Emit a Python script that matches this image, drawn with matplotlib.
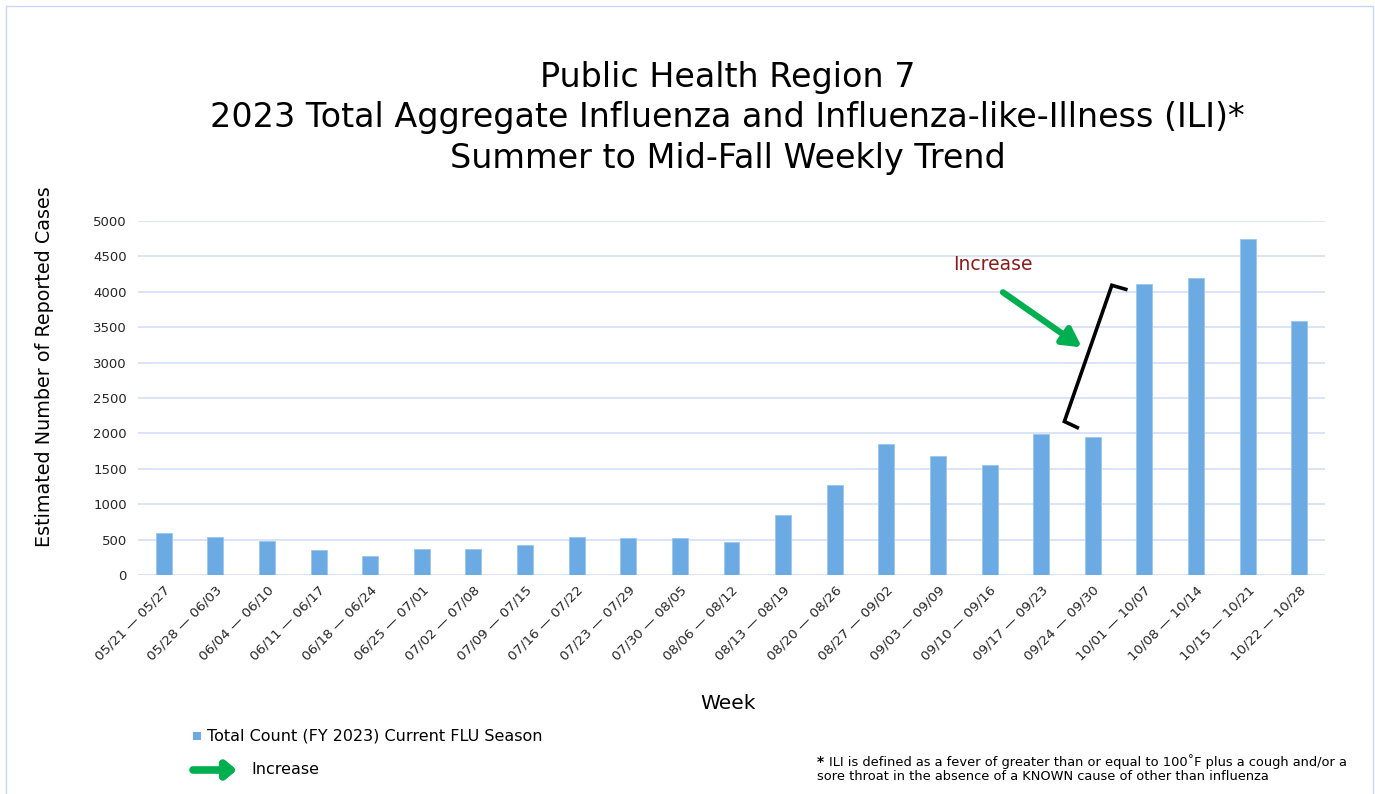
import matplotlib.pyplot as plt
from matplotlib.patches import Rectangle
import numpy as np

weeks = ['05/21 — 05/27', '05/28 — 06/03', '06/04 — 06/10', '06/11 — 06/17',
         '06/18 — 06/24', '06/25 — 07/01', '07/02 — 07/08', '07/09 — 07/15',
         '07/16 — 07/22', '07/23 — 07/29', '07/30 — 08/05', '08/06 — 08/12',
         '08/13 — 08/19', '08/20 — 08/26', '08/27 — 09/02', '09/03 — 09/09',
         '09/10 — 09/16', '09/17 — 09/23', '09/24 — 09/30', '10/01 — 10/07',
         '10/08 — 10/14', '10/15 — 10/21', '10/22 — 10/28']
total_count = [595, 542, 486, 358, 273, 363, 372, 420, 540, 516, 516, 472,
               853, 1269, 1846, 1685, 1558, 1992, 1955, 4106, 4195, 4752, 3583]
y_ticks = [0, 500, 1000, 1500, 2000, 2500, 3000, 3500, 4000, 4500, 5000]

bar_color = '#6CAAE3'
grid_color = '#D3DFF5'
green = '#00B050'

plt.rcParams['font.family'] = 'DejaVu Sans'

fig = plt.figure(figsize=(13.75, 7.94), dpi=100)
ax = fig.add_axes([138/1375, 1 - 575/794, (1325 - 138)/1375, (575 - 221)/794])

x = np.arange(len(weeks))
ax.bar(x, total_count, width=0.31, color=bar_color, edgecolor='#9CC6EE', linewidth=0.6, zorder=3)

ax.set_xlim(-0.5, len(weeks) - 0.5)
ax.set_ylim(0, 5000)
ax.set_yticks(y_ticks)
ax.set_yticklabels([str(v) for v in y_ticks], fontsize=9.5, color='#262626')
ax.set_xticks(x)
ax.set_xticklabels(weeks, rotation=45, ha='right', rotation_mode='anchor', fontsize=9.7, color='#262626')
ax.tick_params(axis='both', length=0, pad=8)
ax.tick_params(axis='x', pad=6)
ax.grid(axis='y', color=grid_color, linewidth=1.2, zorder=0)
for s in ax.spines.values():
    s.set_visible(False)

ax.set_ylabel('Estimated Number of Reported Cases', fontsize=13.8)
ax.yaxis.set_label_coords(-0.071, 0.59)
ax.set_xlabel('Week', fontsize=14.5)
ax.xaxis.set_label_coords(0.497, -0.336)

fig.text(0.529, 1 - 118/794,
         'Public Health Region 7\n2023 Total Aggregate Influenza and Influenza-like-Illness (ILI)*\nSummer to Mid-Fall Weekly Trend',
         ha='center', va='center', fontsize=24, linespacing=1.3)

# annotation: increase arrow and bracket
ax.text(16.07, 4380, 'Increase', color='#8B1A1A', fontsize=13.5, ha='center', va='center')
ax.annotate('', xy=(17.79, 3215), xytext=(16.26, 3993),
            arrowprops=dict(arrowstyle='-|>,head_width=0.6,head_length=1.1', lw=4.5,
                            color=green, shrinkA=0, shrinkB=0), zorder=5)
ax.plot([17.70, 17.45, 18.37, 18.64], [2083, 2168, 4092, 4035], color='black', lw=2.6,
        solid_joinstyle='miter', zorder=5, clip_on=False)

# legend
fig.patches.append(Rectangle((193/1375, 1 - 740/794), 8/1375, 8/794, transform=fig.transFigure,
                             facecolor=bar_color, edgecolor='none'))
fig.text(207/1375, 1 - 736/794, 'Total Count (FY 2023) Current FLU Season', fontsize=11.5,
         va='center', ha='left')
fig.add_artist(plt.Annotation('', xy=(237/1375, 1 - 770/794), xytext=(193/1375, 1 - 770/794),
                              xycoords='figure fraction', textcoords='figure fraction',
                              arrowprops=dict(arrowstyle='-|>,head_width=0.5,head_length=0.6', lw=5.5,
                                              color=green, shrinkA=0, shrinkB=0)))
fig.text(251/1375, 1 - 770/794, 'Increase', fontsize=11.5, va='center', ha='left')

# footnote
fig.text(817/1375, 1 - 762/794, '*', fontsize=10, fontweight='bold', va='center', ha='left')
fig.text(829/1375, 1 - 762/794, 'ILI is defined as a fever of greater than or equal to 100˚F plus a cough and/or a',
         fontsize=9.4, va='center', ha='left')
fig.text(817/1375, 1 - 777/794, 'sore throat in the absence of a KNOWN cause of other than influenza',
         fontsize=9.4, va='center', ha='left')

# outer frame
fig.patches.append(Rectangle((6/1375, -0.05), 1367/1375, 1.05 - 6/794, transform=fig.transFigure,
                             facecolor='none', edgecolor='#C9D8F7', linewidth=1.0))

fig.savefig('out.png', dpi=100)
